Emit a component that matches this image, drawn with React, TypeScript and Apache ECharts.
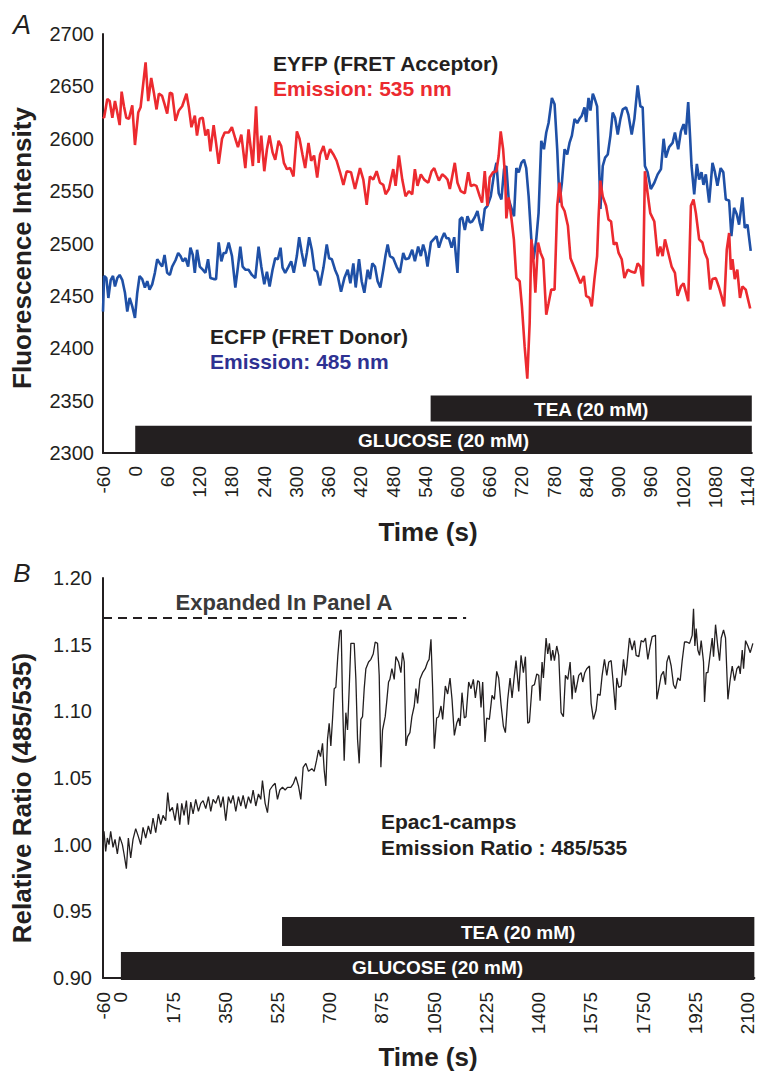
import React, { useEffect, useRef } from "react";
import * as echarts from "echarts";

// ---------- Panel A data: time (s), fluorescence intensity ----------
const eyfp535: [number, number][] = [
  [-60,2621],[-58,2620],[-52,2638],[-47.6,2636],[-42.6,2620],[-37.7,2636],[-33.4,2625],[-29,2613],[-25.3,2645],[-21,2631],[-16.6,2620],[-11.7,2619],[-5.5,2632],[-0.5,2594],[5.6,2625],[10,2630],[19.3,2673],[24.2,2636],[29.8,2658],[34.7,2644],[39.7,2628],[44,2643],[50,2641],[54.6,2633],[59.5,2624],[64.5,2644],[68.8,2643],[75,2617],[81.2,2627],[87.4,2631],[95.4,2643],[99.8,2630],[104.7,2611],[111,2622],[115,2603],[120,2619],[125.7,2620],[130.7,2603],[135.6,2609],[140,2588],[146,2613],[150.5,2596],[155.4,2576],[161.6,2600],[166.6,2606],[174,2606],[180,2611],[186.4,2600],[191.3,2592],[197.5,2604],[205,2572],[211,2609],[219,2574],[225,2631],[229.7,2577],[234.7,2603],[240.3,2569],[245.2,2590],[250,2603],[255.7,2587],[260.7,2580],[267,2598],[271.8,2593],[276.8,2577],[282.3,2571],[288.5,2572],[294.7,2564],[301,2607],[305.9,2600],[311.4,2585],[316.4,2572],[322.6,2596],[327.6,2579],[333,2584],[338.8,2563],[344.2,2585],[350.5,2593],[356.6,2580],[362.8,2590],[369,2585],[375,2579],[381.4,2568],[387.6,2556],[393.8,2569],[401.8,2568],[409.2,2552],[418.5,2572],[424.7,2561],[431,2537],[437,2564],[443.3,2561],[449.5,2569],[455.7,2558],[461.9,2556],[466.2,2547],[472.4,2552],[480.4,2571],[484.8,2555],[491,2584],[497.2,2561],[503.3,2545],[509.5,2550],[515.7,2547],[520.7,2571],[525.6,2555],[531.8,2566],[538,2561],[545.6,2558],[551.8,2569],[556.7,2572],[561,2566],[565.4,2560],[571.6,2566],[576.5,2564],[581.5,2561],[585.8,2552],[595,2577],[600,2558],[606,2550],[613.7,2548],[620,2568],[624.8,2555],[631,2556],[635.3,2555],[641.5,2545],[645.8,2539],[650.8,2569],[655.8,2536],[660,2563],[666.3,2568],[672.5,2569],[676.8,2584],[680.5,2607],[685,2590],[689,2561],[691,2524],[695.4,2544],[700,2526],[705,2504],[709.6,2467],[715.8,2464],[720,2440],[725,2402],[730,2371],[734.4,2424],[737.5,2504],[740.6,2491],[745,2453],[750,2501],[754.8,2491],[759.7,2485],[765.3,2432],[769.6,2443],[774.6,2456],[780.8,2456],[785.7,2536],[790,2558],[794.4,2536],[799.4,2531],[805.6,2517],[810.5,2486],[816.7,2478],[822.9,2470],[829,2462],[835.3,2469],[839.6,2450],[845.8,2448],[850,2440],[855,2466],[860,2488],[862.5,2523],[866,2560],[870.5,2545],[876.7,2536],[881,2523],[886,2521],[891,2499],[896,2501],[900,2491],[905.8,2485],[910.8,2467],[917,2475],[924.4,2473],[930.6,2472],[935.5,2481],[940.5,2478],[945.4,2459],[949,2569],[954,2548],[959,2529],[966.5,2521],[972.7,2488],[977.6,2497],[982,2488],[986.3,2504],[992.5,2491],[998.7,2478],[1004.9,2472],[1009.8,2450],[1016,2459],[1021,2462],[1025,2454],[1029.6,2445],[1034.6,2536],[1039.5,2542],[1043.9,2529],[1050,2504],[1056,2501],[1060.6,2491],[1065.5,2485],[1070.5,2456],[1074.8,2466],[1081,2467],[1087,2458],[1091.5,2450],[1096.5,2440],[1101.4,2494],[1105.8,2510],[1109,2475],[1112,2485],[1116.3,2466],[1121,2475],[1126,2448],[1130.5,2459],[1136.7,2456],[1145,2438]
];

const ecfp485: [number, number][] = [
  [-60,2435],[-58,2469],[-53.8,2467],[-50,2448],[-45.7,2465],[-41.4,2469],[-37.7,2459],[-33.4,2467],[-29,2470],[-24,2465],[-19.1,2453],[-14.8,2435],[-10.4,2448],[-5.5,2440],[-0.5,2429],[3.8,2453],[8.1,2469],[13,2466],[18,2458],[22.4,2464],[26.7,2456],[31.6,2461],[36.6,2472],[41,2485],[45.9,2481],[50.2,2478],[54.6,2489],[59.5,2472],[64.5,2470],[68.8,2478],[75,2484],[80,2491],[84.3,2488],[88.6,2483],[93.5,2486],[98.5,2478],[102.8,2496],[107.2,2489],[110.9,2472],[115.2,2494],[120.2,2478],[125.7,2475],[130.7,2472],[135.6,2485],[140,2467],[146.2,2466],[150.5,2466],[155.4,2501],[160.4,2483],[164.7,2491],[169,2491],[174,2501],[180.2,2488],[186.4,2458],[191.3,2478],[195.7,2497],[200,2478],[205,2475],[211,2475],[217.3,2470],[223.5,2467],[229.7,2497],[234.7,2478],[240.3,2461],[245.2,2473],[250.2,2459],[255.7,2475],[260.7,2486],[265.6,2485],[270.6,2496],[274.3,2477],[279.2,2472],[285.4,2478],[290.4,2483],[295.3,2472],[300.9,2488],[305.3,2506],[310.2,2491],[315.1,2478],[319.5,2491],[323.8,2506],[328.8,2494],[333.7,2475],[338.7,2473],[344.2,2460],[350.5,2477],[356.6,2499],[361,2486],[366,2485],[372,2475],[377,2469],[383.2,2454],[389.4,2467],[395.6,2475],[400.6,2462],[406.1,2481],[410.5,2458],[416.7,2485],[421.6,2464],[426.6,2453],[432.8,2475],[437.1,2466],[441.4,2481],[446.4,2478],[451.3,2464],[456.3,2458],[461.9,2475],[466.2,2489],[470,2499],[474.2,2488],[480.4,2486],[486.6,2478],[492.8,2472],[499,2491],[503.3,2485],[509.5,2486],[515.7,2494],[520.7,2483],[526.8,2497],[531.8,2488],[536.1,2499],[540.5,2491],[544.2,2478],[550.5,2501],[555.5,2504],[561,2507],[565.4,2496],[570.3,2504],[575.3,2510],[579.6,2505],[584,2505],[589,2496],[593.9,2506],[600,2472],[604.4,2523],[608.7,2525],[613.7,2513],[618.6,2526],[623,2520],[627.3,2521],[632.2,2525],[637.2,2531],[641.5,2520],[645.8,2512],[650.8,2533],[655.8,2536],[662,2545],[668,2566],[672.5,2577],[676.8,2548],[681.8,2542],[686.7,2571],[691,2574],[695.4,2542],[700.3,2534],[705.3,2526],[709.6,2572],[714,2568],[719,2577],[723.8,2580],[728,2572],[732.5,2545],[737.5,2504],[741.8,2485],[746.7,2504],[751,2529],[756,2598],[761,2590],[765.3,2606],[769.6,2615],[775.8,2639],[780.8,2633],[785.7,2590],[790,2539],[794.4,2558],[799.4,2590],[804.3,2585],[808.6,2596],[813,2603],[818,2619],[823,2615],[827.2,2619],[831.5,2622],[836.5,2630],[839.6,2616],[844,2639],[847.6,2627],[852,2643],[855,2639],[860,2631],[862.5,2593],[866.2,2533],[870.5,2574],[874.9,2582],[879.8,2585],[884.8,2603],[889,2625],[893.4,2620],[898.4,2604],[903.4,2619],[907.7,2628],[913.9,2630],[918.2,2623],[924.4,2604],[929.4,2619],[935.5,2651],[940.5,2631],[944.8,2630],[949,2574],[954,2568],[960,2552],[966.5,2558],[972.7,2566],[978.9,2571],[983.8,2600],[988,2582],[994,2592],[1000.5,2596],[1004.9,2606],[1011,2590],[1016,2607],[1021,2614],[1025,2604],[1029.6,2635],[1033.3,2600],[1035.8,2574],[1040.8,2547],[1045.7,2576],[1050,2561],[1054.4,2568],[1058,2556],[1062.4,2566],[1068.6,2539],[1074.8,2577],[1079,2569],[1084,2555],[1090,2572],[1095,2568],[1099.6,2542],[1105.8,2541],[1110,2507],[1115,2534],[1120,2528],[1124.3,2518],[1130.5,2544],[1134.9,2515],[1140,2518],[1146,2493]
];

// ---------- Panel B data: time (s), relative ratio 485/535 ----------
const ratio485535: [number, number][] = [
  [-60,1.005],[-56.6,1.010],[-51,0.995],[-45.4,1.005],[-39.9,1.000],[-34.3,1.010],[-26.4,0.998],[-19.7,1.004],[-11.9,0.993],[-4.1,1.006],[4.9,1.000],[10.5,0.993],[18.3,0.982],[25,1.005],[32.8,0.990],[40.6,1.004],[49.6,1.012],[58.5,1.006],[66.4,1.000],[74.2,1.013],[83.1,1.005],[92.1,1.014],[99.9,1.008],[107.7,1.020],[116.7,1.009],[125.6,1.023],[133.4,1.015],[141.3,1.022],[150.2,1.018],[157,1.039],[163.6,1.025],[172.6,1.028],[181.5,1.018],[189.3,1.031],[197.2,1.015],[203.9,1.031],[211.7,1.022],[219.5,1.033],[226.2,1.015],[234.1,1.032],[241.9,1.023],[250.8,1.034],[259.8,1.025],[267.6,1.031],[275.4,1.033],[284.4,1.027],[293.3,1.036],[301.1,1.025],[309,1.034],[317.9,1.031],[326.8,1.037],[334.7,1.028],[342.5,1.036],[351.4,1.018],[360.4,1.036],[368.2,1.031],[376,1.037],[385,1.025],[393.9,1.036],[401.8,1.029],[409.6,1.037],[418.5,1.027],[427.5,1.036],[435.3,1.031],[443.1,1.041],[452.1,1.029],[461,1.038],[468.8,1.034],[474.4,1.048],[483.4,1.031],[491.2,1.024],[499,1.041],[508,1.044],[516.9,1.046],[524.7,1.034],[532.6,1.041],[541.5,1.043],[550.4,1.041],[558.3,1.043],[569.5,1.043],[578.4,1.046],[586.2,1.051],[595.2,1.044],[603,1.034],[610.8,1.058],[619.8,1.061],[628.7,1.055],[639.9,1.057],[647.7,1.055],[655.5,1.063],[662.2,1.071],[669,1.066],[675.7,1.076],[681.3,1.056],[686.8,1.044],[692.4,1.079],[698,1.091],[703.6,1.074],[709.2,1.094],[714.8,1.117],[720.4,1.118],[727.1,1.142],[733.8,1.160],[738.3,1.161],[742.7,1.109],[748.3,1.063],[753.9,1.099],[759.5,1.086],[765.1,1.117],[770.7,1.151],[781.9,1.151],[787.5,1.124],[793.1,1.079],[798.6,1.061],[804.2,1.094],[809.8,1.096],[815.4,1.117],[821,1.132],[830,1.137],[837.8,1.139],[845.6,1.143],[852.3,1.152],[860.1,1.151],[865.7,1.127],[871.3,1.058],[876.9,1.086],[885.8,1.096],[890.3,1.106],[897,1.122],[901.5,1.124],[908.2,1.132],[916,1.124],[921.6,1.141],[930.6,1.137],[938.4,1.129],[944,1.144],[949.6,1.137],[955.2,1.074],[960.8,1.081],[968.6,1.084],[975.3,1.096],[983.1,1.104],[988.7,1.117],[994.3,1.106],[1002.1,1.124],[1011.1,1.129],[1020,1.132],[1027.8,1.137],[1033,1.139],[1039.2,1.154],[1044.8,1.117],[1050.4,1.072],[1058.2,1.095],[1064.9,1.096],[1072.8,1.104],[1078.4,1.094],[1087.3,1.119],[1095.1,1.113],[1103,1.125],[1109.7,1.109],[1117.5,1.082],[1125.3,1.091],[1132,1.095],[1136.5,1.089],[1143.2,1.114],[1151,1.095],[1156.6,1.096],[1165.6,1.122],[1173.4,1.117],[1181.2,1.124],[1187.9,1.110],[1195.8,1.123],[1201.3,1.122],[1206.9,1.103],[1212.5,1.122],[1220.3,1.077],[1226,1.095],[1234.9,1.094],[1243.8,1.112],[1251.7,1.109],[1259.5,1.130],[1266.2,1.125],[1274,1.105],[1281.8,1.089],[1288.6,1.084],[1296.4,1.109],[1304.2,1.125],[1310.9,1.110],[1318.7,1.127],[1324.3,1.138],[1333.3,1.115],[1341.1,1.142],[1348.9,1.129],[1355.7,1.141],[1363.5,1.091],[1369.1,1.092],[1378,1.119],[1385.9,1.120],[1393.7,1.128],[1400.4,1.127],[1404.8,1.108],[1411.5,1.137],[1416,1.125],[1425,1.155],[1430.5,1.143],[1436.1,1.151],[1441.7,1.138],[1447.3,1.146],[1452.9,1.138],[1460.7,1.149],[1467.4,1.142],[1475.3,1.099],[1483,1.096],[1489.8,1.127],[1497.6,1.124],[1505.5,1.137],[1512.2,1.109],[1516.6,1.127],[1523.3,1.114],[1527.8,1.119],[1534.5,1.127],[1542.3,1.129],[1547.9,1.122],[1554.6,1.129],[1561.3,1.132],[1570.3,1.134],[1575.9,1.106],[1583.7,1.094],[1592.6,1.101],[1598.2,1.113],[1606,1.112],[1612.8,1.127],[1620.6,1.139],[1628.4,1.127],[1635.1,1.137],[1643,1.138],[1648.5,1.125],[1657.5,1.101],[1661.9,1.125],[1668.7,1.118],[1676.5,1.119],[1684.3,1.139],[1691,1.127],[1695.5,1.134],[1704.4,1.155],[1713.3,1.146],[1721.2,1.153],[1726.8,1.142],[1735.7,1.141],[1743.6,1.153],[1751.4,1.152],[1758.1,1.155],[1765.9,1.139],[1773.8,1.149],[1780.5,1.156],[1791.6,1.157],[1796.1,1.109],[1802.8,1.117],[1810.7,1.127],[1818.5,1.130],[1825.2,1.120],[1829.7,1.137],[1836.4,1.142],[1844.2,1.134],[1852,1.120],[1858.7,1.117],[1866.6,1.125],[1874.4,1.123],[1881.1,1.138],[1888.9,1.152],[1896.8,1.152],[1905.7,1.151],[1914.6,1.157],[1919.1,1.177],[1923.6,1.149],[1928,1.162],[1933.6,1.146],[1939.2,1.142],[1944.8,1.153],[1952.6,1.137],[1956,1.107],[1961.6,1.129],[1967.2,1.129],[1972.7,1.139],[1981.7,1.155],[1986.2,1.141],[1992.9,1.165],[2000.7,1.148],[2006.3,1.138],[2011.9,1.155],[2019.7,1.161],[2026.4,1.155],[2034.3,1.109],[2042.1,1.124],[2048.8,1.134],[2056.7,1.123],[2064.5,1.132],[2071.2,1.134],[2075.6,1.128],[2082.4,1.146],[2086.8,1.132],[2093.5,1.153],[2101.4,1.149],[2109.2,1.144],[2118,1.151]
];

// Range shown in panel A, marked in panel B
const expandedRange: [number, number][] = [[-60, 1.17], [1157, 1.17]];

// Tick labels
const timeTicksA = [-60, 0, 60, 120, 180, 240, 300, 360, 420, 480, 540, 600, 660, 720, 780, 840, 900, 960, 1020, 1080, 1140];
const timeTicksB = [-60, 175, 350, 525, 700, 875, 1050, 1225, 1400, 1575, 1750, 1925, 2100];
const timeTicksBZero = [0];

// Treatments (start, end in s)
const treatmentNames = ["GLUCOSE (20 mM)", "TEA (20 mM)"];
const treatmentStartA = [0, 550];
const treatmentStartB = [0, 540];
const treatmentEndA = [1148, 1148];
const treatmentEndB = [2123, 2123];

const FONT = '"Liberation Sans", Arial, Helvetica, sans-serif';
const INK = "#231f20";
const RED = "#ec2a2f";
const BLUE = "#1f50a6";

function barRenderer(names: string[], levels: [number, number][]) {
  return (params: any, api: any) => {
    const i = params.dataIndex;
    const p0 = api.coord([api.value(0), levels[i][1]]);
    const p1 = api.coord([api.value(1), levels[i][0]]);
    return {
      type: "group",
      children: [
        {
          type: "rect",
          shape: { x: p0[0], y: p0[1], width: p1[0] - p0[0], height: p1[1] - p0[1] },
          style: { fill: INK },
        },
        {
          type: "text",
          x: (p0[0] + p1[0]) / 2,
          y: (p0[1] + p1[1]) / 2 + 1,
          style: {
            text: names[i],
            fill: "#ffffff",
            fontSize: 19,
            fontWeight: "bold",
            fontFamily: FONT,
            align: "center",
            verticalAlign: "middle",
          },
        },
      ],
    };
  };
}

function txt(text: string, x: number, y: number, opts: any = {}) {
  const { rotation, ...style } = opts;
  return {
    type: "text",
    x,
    y,
    rotation: rotation || 0,
    style: {
      text,
      fill: INK,
      fontFamily: FONT,
      fontSize: 22,
      fontWeight: "bold",
      align: "left",
      verticalAlign: "middle",
      ...style,
    },
  };
}

const plain = (v: number) => String(Math.round(v));

export default function App() {
  const ref = useRef<HTMLDivElement>(null);

  useEffect(() => {
    if (!ref.current) return;
    const chart = echarts.init(ref.current, null, { renderer: "svg" });

    const levelsA: [number, number][] = [[2299, 2326], [2330, 2355]];
    const levelsB: [number, number][] = [[0.8985, 0.9195], [0.924, 0.9458]];

    const axisLineStyle = { show: true, onZero: false, lineStyle: { color: INK, width: 2 } };
    const xLabel = (values: number[], margin: number) => ({
      customValues: values, rotate: 90, margin, fontSize: 19, color: INK, fontFamily: FONT,
      formatter: plain, hideOverlap: false, showMinLabel: true, showMaxLabel: true,
    });

    const option: any = {
      animation: false,
      backgroundColor: "#ffffff",
      grid: [
        { left: 103, top: 34, width: 651, height: 419 },
        { left: 103, top: 578, width: 652, height: 400 },
      ],
      xAxis: [
        {
          type: "value", gridIndex: 0, position: "bottom", min: -60, max: 1148,
          axisLine: axisLineStyle, axisTick: { show: false }, splitLine: { show: false },
          axisLabel: xLabel(timeTicksA, 13),
        },
        {
          type: "value", gridIndex: 1, position: "bottom", min: -60, max: 2123,
          axisLine: axisLineStyle, axisTick: { show: false }, splitLine: { show: false },
          axisLabel: xLabel(timeTicksB, 14),
        },
        {
          type: "value", gridIndex: 1, position: "bottom", offset: 0, min: -60, max: 2123,
          axisLine: { show: false }, axisTick: { show: false }, splitLine: { show: false },
          axisLabel: xLabel(timeTicksBZero, 14),
        },
      ],
      yAxis: [
        {
          type: "value", gridIndex: 0, min: 2300, max: 2700, interval: 50,
          axisLine: axisLineStyle, axisTick: { show: false }, splitLine: { show: false },
          axisLabel: { margin: 9, fontSize: 20, color: INK, fontFamily: FONT, formatter: plain },
        },
        {
          type: "value", gridIndex: 1, min: 0.9, max: 1.2, interval: 0.05,
          axisLine: axisLineStyle, axisTick: { show: false }, splitLine: { show: false },
          axisLabel: { margin: 11, fontSize: 20, color: INK, fontFamily: FONT, formatter: (v: number) => v.toFixed(2) },
        },
      ],
      series: [
        {
          name: "ECFP 485", type: "line", xAxisIndex: 0, yAxisIndex: 0, data: ecfp485,
          symbol: "none", lineStyle: { color: BLUE, width: 2.6 }, z: 3,
        },
        {
          name: "EYFP 535", type: "line", xAxisIndex: 0, yAxisIndex: 0, data: eyfp535,
          symbol: "none", lineStyle: { color: RED, width: 2.6 }, z: 4,
        },
        {
          name: "Ratio", type: "line", xAxisIndex: 1, yAxisIndex: 1, data: ratio485535,
          symbol: "none", lineStyle: { color: INK, width: 1.3 }, z: 3,
        },
        {
          name: "Expanded", type: "line", xAxisIndex: 1, yAxisIndex: 1, data: expandedRange,
          symbol: "none", lineStyle: { color: INK, width: 2, type: [9, 6] }, z: 3,
        },
        {
          type: "custom", xAxisIndex: 0, yAxisIndex: 0, clip: false, z: 6,
          data: treatmentNames.map((_, i) => [treatmentStartA[i], treatmentEndA[i], levelsA[i][0], levelsA[i][1]]),
          encode: { x: [0, 1], y: [2, 3] },
          renderItem: barRenderer(treatmentNames, levelsA),
        },
        {
          type: "custom", xAxisIndex: 1, yAxisIndex: 1, clip: false, z: 6,
          data: treatmentNames.map((_, i) => [treatmentStartB[i], treatmentEndB[i], levelsB[i][0], levelsB[i][1]]),
          encode: { x: [0, 1], y: [2, 3] },
          renderItem: barRenderer(treatmentNames, levelsB),
        },
      ],
      graphic: [
        txt("A", 22, 25, { fontSize: 27, fontWeight: "normal", fontStyle: "italic", align: "center" }),
        txt("B", 22, 573, { fontSize: 26, fontWeight: "normal", fontStyle: "italic", align: "center" }),
        txt("Fluorescence Intensity", 22, 248, { fontSize: 26, align: "center", rotation: Math.PI / 2 }),
        txt("Relative Ratio (485/535)", 22, 798, { fontSize: 26, align: "center", rotation: Math.PI / 2 }),
        txt("Time (s)", 428, 532, { fontSize: 26, align: "center" }),
        txt("Time (s)", 428, 1057, { fontSize: 26, align: "center" }),
        txt("EYFP (FRET Acceptor)", 273, 63, { fontSize: 21 }),
        txt("Emission: 535 nm", 273, 88, { fill: RED, fontSize: 21 }),
        txt("ECFP (FRET Donor)", 210, 336, { fontSize: 21 }),
        txt("Emission: 485 nm", 210, 361, { fill: "#2e3192", fontSize: 21 }),
        txt("Expanded In Panel A", 284, 602, { align: "center", fill: "#3a3a3a" }),
        txt("Epac1-camps", 381, 821, { fontSize: 21 }),
        txt("Emission Ratio : 485/535", 381, 847, { fontSize: 21 }),
      ],
    };

    chart.setOption(option);
    return () => chart.dispose();
  }, []);

  return (
    <div
      ref={ref}
      style={{ position: "absolute", left: 0, top: 0, width: 757, height: 1072, background: "#fff" }}
    />
  );
}
